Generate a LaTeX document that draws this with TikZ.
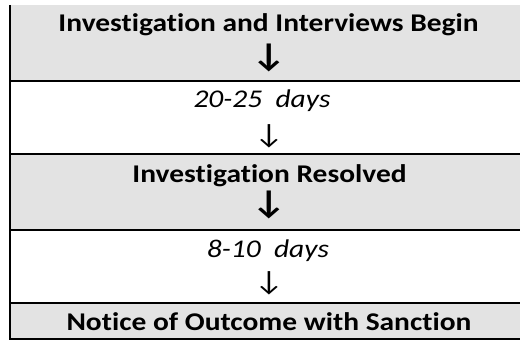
\documentclass[tikz,border=0pt]{standalone}
\usepackage{fontspec}
\setmainfont{Carlito}[Ligatures=NoCommon, FakeStretch=1.155]
\definecolor{rowgray}{RGB}{227,227,227}
\tikzset{
  rowfill/.style={fill=rowgray, draw=none},
  rule/.style={line width=2pt, draw=black},
  headtext/.style={font=\fontsize{25.5}{30}\selectfont\bfseries, inner sep=0pt, anchor=base},
  daytext/.style={font=\fontsize{25.5}{30}\selectfont\itshape, inner sep=0pt, anchor=base},
  boldarrow/.style={font=\fontsize{33}{38}\selectfont\bfseries, inner sep=0pt, anchor=center},
  thinarrow/.style={font=\fontsize{28}{32}\selectfont, inner sep=0pt, anchor=center}
}
\begin{document}
\begin{tikzpicture}[x=1pt,y=1pt]
\useasboundingbox (0,0) rectangle (520,341);
% fills
\fill[rowfill] (10,336) rectangle (520,260);
\fill[rowfill] (10,187) rectangle (520,111);
\fill[rowfill] (10,38) rectangle (520,2);
% rules
\coordinate (l1) at (9,260); \coordinate (r1) at (520,260);
\coordinate (l2) at (9,187); \coordinate (r2) at (520,187);
\coordinate (l3) at (9,111); \coordinate (r3) at (520,111);
\coordinate (l4) at (9,38);  \coordinate (r4) at (520,38);
\coordinate (l5) at (9,2);   \coordinate (r5) at (520,2);
\coordinate (lt) at (10,336);
\draw[rule] (l1) -- (r1);
\draw[rule] (l2) -- (r2);
\draw[rule] (l3) -- (r3);
\draw[rule] (l4) -- (r4);
\draw[rule] (l5) -- (r5);
\draw[rule] (lt) -- ([xshift=1pt]l5);
% texts
\node[headtext] (t1) at (268.5,309) {Investigation and Interviews Begin};
\node[boldarrow] (a1) at (269,283) {↓};
\node[daytext] (t2) at (262,234) {20-25\ \ days};
\node[thinarrow] (a2) at (269,205) {↓};
\node[headtext] (t3) at (269.5,159) {Investigation Resolved};
\node[boldarrow] (a3) at (269,136) {↓};
\node[daytext] (t4) at (268,84) {8-10\ \ days};
\node[thinarrow] (a4) at (269,57.5) {↓};
\node[headtext] (t5) at (269,11) {Notice of Outcome with Sanction};
\end{tikzpicture}
\end{document}
